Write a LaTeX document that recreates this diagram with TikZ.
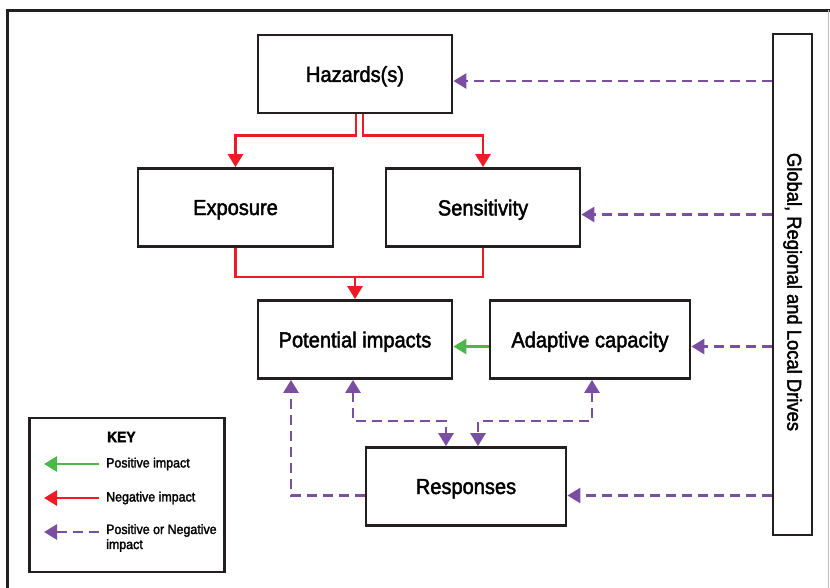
\documentclass[tikz,border=0pt]{standalone}
\usepackage{fontspec}
\setmainfont{Liberation Sans}[FakeStretch=0.92, FakeBold=2]
\usepackage{tikz}
\usetikzlibrary{arrows.meta}
\definecolor{negred}{HTML}{ED1C24}
\definecolor{posgreen}{HTML}{4DB848}
\definecolor{mixpurple}{HTML}{7B4FA0}
\definecolor{boxline}{HTML}{231F20}

\begin{document}
\begin{tikzpicture}[x=1pt, y=-1pt, line join=miter]
        \tikzstyle{block} = [rectangle, draw=boxline, line width=2.8pt, minimum width=194pt, minimum height=78pt, inner sep=0pt, text depth=0pt, font=\fontsize{21.8}{24}\selectfont]
        \tikzstyle{negline} = [draw=negred, line width=2.8pt, -{Triangle[length=13pt, width=15pt]}]
        \tikzstyle{posline} = [draw=posgreen, line width=2.8pt, -{Triangle[length=13pt, width=15pt]}]
        \tikzstyle{mixline} = [draw=mixpurple, line width=2.8pt, dash pattern=on 10pt off 6pt, -{Triangle[length=13pt, width=15pt]}]
        \tikzstyle{keytext} = [anchor=west, inner sep=0pt, align=left, font=\fontsize{13.5}{15}\selectfont]

        \useasboundingbox (0,0) rectangle (830,587);
        % frame
        \draw[line width=3pt, boxline] (7,600) -- (7,10) -- (830,10);
        \draw[line width=1pt, gray!50] (828,10) -- (828,600);

        \node [block] (haz) at (355,74) {Hazards(s)};
        \node [block, minimum width=195pt] (expo) at (235.5,207.5) {Exposure};
        \node [block] (sens) at (483,207.5) {Sensitivity};
        \node [block] (pot) at (355,339.5) {Potential impacts};
        \node [block, minimum width=200pt] (adapt) at (590,339.5) {Adaptive capacity};
        \node [block, minimum width=200pt] (resp) at (466,486.5) {Responses};
        \node [rectangle, draw=boxline, line width=2.8pt, minimum width=39pt, minimum height=501pt, inner sep=0pt] (drv) at (792.5,284.5) {};
        \node [rotate=-90, font=\fontsize{20}{22}\selectfont] (drvtext) at (792.5,292) {Global, Regional and Local Drives};

        % negative links
        \path [negline] ([xshift=1pt]haz.south) -- ++(0,21) -| (expo.north);
        \path [negline] ([xshift=8pt]haz.south) -- ++(0,21) -| (sens.north);
        \draw [negred, line width=2.8pt] (expo.south) -- ++(0,29) -| (sens.south);
        \path [negline] (pot.north |- 0,276) -- (pot.north);

        % positive link
        \path [posline] ([yshift=-7pt]adapt.west) -- ([yshift=-7pt]pot.east);

        % drives
        \path [mixline] ([yshift=-7pt]drv.west |- haz.east) -- ([yshift=-7pt]haz.east);
        \path [mixline] ([yshift=-7pt]drv.west |- sens.east) -- ([yshift=-7pt]sens.east);
        \path [mixline] ([yshift=-7pt]drv.west |- adapt.east) -- ([yshift=-7pt]adapt.east);
        \path [mixline] ([yshift=-9pt]drv.west |- resp.east) -- ([yshift=-9pt]resp.east);

        % responses
        \path [mixline] ([yshift=-9pt]resp.west) -| ([xshift=-64pt]pot.south);
        \path [mixline, {Triangle[length=13pt, width=15pt]}-{Triangle[length=13pt, width=15pt]}] ([xshift=-2pt]pot.south) |- (399,421) -| ([xshift=-20pt]resp.north);
        \path [mixline, {Triangle[length=13pt, width=15pt]}-{Triangle[length=13pt, width=15pt]}] ([xshift=2pt]adapt.south) |- (535,421) -| ([xshift=12pt]resp.north);

        % key
        \node [rectangle, draw=boxline, line width=2.8pt, minimum width=195pt, minimum height=154pt, inner sep=0pt] (key) at (127,495) {};
        \node [keytext, font=\fontsize{15}{18}\selectfont\bfseries] (keytitle) at (107,437) {KEY};
        \node [keytext] (kpos) at (106,464) {Positive impact};
        \node [keytext] (kneg) at (106,498) {Negative impact};
        \node [keytext] (kmix) at (106,538) {Positive or Negative\\impact};
        \coordinate (kposend) at (44,464);
        \coordinate (knegend) at (44,498);
        \coordinate (kmixend) at (44,532);
        \path [posline] (kpos.west) ++(-7,0) -- (kposend);
        \path [negline] (kneg.west) ++(-7,0) -- (knegend);
        \path [mixline] (kmix.west |- kmixend) ++(-7,0) -- (kmixend);
    \end{tikzpicture}
\end{document}
